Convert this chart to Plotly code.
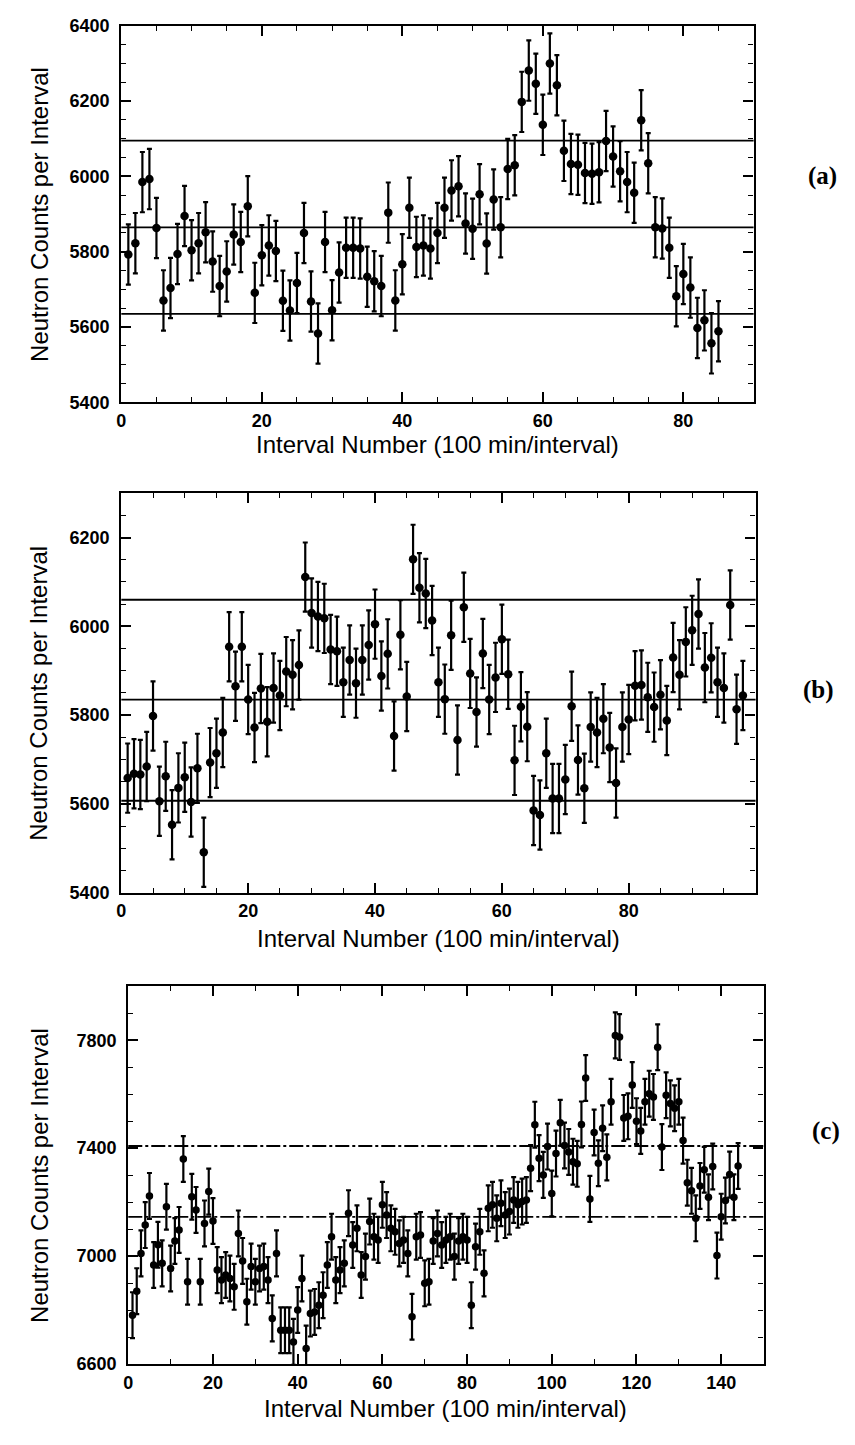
import plotly.graph_objects as go

W, H = 855, 1445

# ---------------- panel (a) ----------------
a_interval = list(range(1, 86))
a_counts = [
    5793, 5823, 5985, 5993, 5863, 5671, 5704, 5794, 5895, 5804,
    5823, 5852, 5774, 5709, 5748, 5846, 5826, 5921, 5691, 5791,
    5817, 5802, 5670, 5644, 5717, 5850, 5668, 5583, 5826, 5645,
    5745, 5811, 5811, 5809, 5734, 5722, 5709, 5904, 5671, 5767,
    5917, 5813, 5817, 5809, 5850, 5917, 5963, 5974, 5875, 5861,
    5953, 5822, 5939, 5865, 6020, 6030, 6198, 6281, 6246, 6137,
    6300, 6242, 6068, 6033, 6031, 6009, 6007, 6011, 6094, 6053,
    6014, 5985, 5957, 6149, 6035, 5865, 5862, 5811, 5682, 5741,
    5705, 5598, 5618, 5557, 5589,
]
a_err = 80
a_levels = [6095, 5865, 5635]

# ---------------- panel (b) ----------------
b_interval = list(range(1, 99))
b_counts = [
    5658, 5668, 5666, 5684, 5798, 5606, 5662, 5553, 5636, 5660,
    5604, 5680, 5491, 5693, 5714, 5761, 5954, 5865, 5954, 5835,
    5772, 5860, 5785, 5861, 5844, 5898, 5891, 5913, 6111, 6030,
    6022, 6018, 5948, 5944, 5874, 5924, 5872, 5924, 5958, 6005,
    5888, 5938, 5753, 5981, 5842, 6151, 6087, 6074, 6013, 5874,
    5836, 5980, 5744, 6043, 5894, 5807, 5939, 5835, 5885, 5971,
    5892, 5698, 5819, 5774, 5585, 5575, 5714, 5612, 5612, 5655,
    5820, 5699, 5635, 5773, 5761, 5792, 5727, 5647, 5773, 5790,
    5866, 5868, 5840, 5818, 5846, 5788, 5930, 5891, 5965, 5991,
    6028, 5907, 5929, 5874, 5861, 6048, 5813, 5844,
]
b_err = 78
b_levels = [6060, 5835, 5607]

# ---------------- panel (c) ----------------
c_interval = list(range(1, 145))
c_counts = [
    6781, 6870, 7010, 7115, 7223, 6967, 7042, 6973, 7183, 6954,
    7056, 7097, 7360, 6905, 7220, 7171, 6905, 7121, 7239, 7130,
    6948, 6911, 6930, 6917, 6886, 7084, 6982, 6831, 6961, 6905,
    6954, 6961, 6911, 6769, 7010, 6725, 6725, 6725, 6682, 6800,
    6917, 6657, 6787, 6793, 6818, 6855, 6967, 7072, 6911, 6948,
    6973, 7159, 7041, 7103, 6930, 6998, 7128, 7072, 7060, 7190,
    7152, 7103, 7090, 7047, 7060, 7010, 6775, 7072, 7078, 6899,
    6905, 7056, 7084, 7041, 7060, 7072, 6998, 7056, 7072, 7060,
    6818, 7035, 7090, 6936, 7177, 7190, 7140, 7196, 7152, 7165,
    7208, 7190, 7202, 7208, 7326, 7487, 7363, 7301, 7406, 7232,
    7380, 7494, 7410, 7386, 7350, 7342, 7488, 7660, 7212, 7458,
    7344, 7474, 7366, 7572, 7818, 7812, 7512, 7518, 7634, 7500,
    7464, 7572, 7602, 7590, 7774, 7404, 7596, 7566, 7548, 7572,
    7428, 7272, 7242, 7140, 7260, 7320, 7218, 7332, 7002, 7146,
    7206, 7302, 7218, 7334,
]
c_err = 85
c_levels = [7408, 7145]

# tick settings per panel
a_xticks = [0, 20, 40, 60, 80]
a_yticks = [5400, 5600, 5800, 6000, 6200, 6400]
b_xticks = [0, 20, 40, 60, 80]
b_yticks = [5400, 5600, 5800, 6000, 6200]
c_xticks = [0, 20, 40, 60, 80, 100, 120, 140]
c_yticks = [6600, 7000, 7400, 7800]

X_TITLE = "Interval Number (100 min/interval)"
Y_TITLE = "Neutron Counts per Interval"


def px_x(p):
    return p / W


def px_y(p):
    return 1 - p / H


panels = [
    dict(x=a_interval, y=a_counts, err=a_err, levels=a_levels,
         xr=[0, 90], yr=[5400, 6400], xt=a_xticks, yt=a_yticks,
         xminor=5, yminor=50, box=(117, 753, 16, 398), label="(a)",
         label_xy=(822, 168), msize=8.5, dash="solid", title_gap=43),
    dict(x=b_interval, y=b_counts, err=b_err, levels=b_levels,
         xr=[0, 100], yr=[5400, 6300], xt=b_xticks, yt=b_yticks,
         xminor=5, yminor=50, box=(117, 755, 490, 895), label="(b)",
         label_xy=(818, 690), msize=8.5, dash="solid", title_gap=47),
    dict(x=c_interval, y=c_counts, err=c_err, levels=c_levels,
         xr=[0, 150], yr=[6600, 8000], xt=c_xticks, yt=c_yticks,
         xminor=10, yminor=100, box=(124, 763, 990, 1373), label="(c)",
         label_xy=(826, 1137), msize=7.5, dash="14px,3px,3px,3px",
         title_gap=45),
]

fig = go.Figure()
annotations = []
shapes = []
tick_font = dict(family="Liberation Sans", size=18, color="black", weight="bold")
title_font = dict(family="Liberation Sans", size=24, color="black")

for k, p in enumerate(panels, start=1):
    xa = "x" if k == 1 else f"x{k}"
    ya = "y" if k == 1 else f"y{k}"
    fig.add_trace(go.Scatter(
        x=p["x"], y=p["y"], mode="markers",
        marker=dict(color="black", size=p["msize"], symbol="circle"),
        error_y=dict(type="constant", value=p["err"], color="black",
                     thickness=2.2, width=2.5),
        xaxis=xa, yaxis=ya, showlegend=False, hoverinfo="x+y",
    ))
    for lv in p["levels"]:
        shapes.append(dict(type="line", xref=f"{xa} domain", yref=ya,
                           x0=0, x1=1, y0=lv, y1=lv,
                           line=dict(color="black", width=1.8, dash=p["dash"])))
    x0, x1, y0, y1 = p["box"]
    axis_common = dict(showline=True, linecolor="black", linewidth=2.2,
                       mirror="ticks", ticks="inside", ticklen=10,
                       tickwidth=1.8, tickcolor="black", showgrid=False,
                       zeroline=False, tickfont=tick_font)
    fig.update_layout(**{
        ("xaxis" if k == 1 else f"xaxis{k}"): dict(
            domain=[px_x(x0), px_x(x1)], range=p["xr"], anchor=ya,
            tickmode="array", tickvals=p["xt"], ticklabelstandoff=1,
            minor=dict(dtick=p["xminor"], ticks="inside", ticklen=5,
                       tickwidth=1.4, tickcolor="black"),
            **axis_common),
        ("yaxis" if k == 1 else f"yaxis{k}"): dict(
            domain=[px_y(y1), px_y(y0)], range=p["yr"], anchor=xa,
            tickmode="array", tickvals=p["yt"], ticklabelstandoff=6,
            minor=dict(dtick=p["yminor"], ticks="inside", ticklen=5,
                       tickwidth=1.4, tickcolor="black"),
            **axis_common),
    })
    # axis titles
    annotations.append(dict(xref="paper", yref="paper",
                            x=px_x((x0 + x1) / 2), y=px_y(y1 + p["title_gap"]),
                            text=X_TITLE, showarrow=False, font=title_font,
                            xanchor="center", yanchor="middle"))
    annotations.append(dict(xref="paper", yref="paper",
                            x=px_x(34), y=px_y((y0 + y1) / 2),
                            text=Y_TITLE, showarrow=False, font=title_font,
                            textangle=-90, xanchor="center", yanchor="middle"))
    lx, ly = p["label_xy"]
    annotations.append(dict(xref="paper", yref="paper", x=px_x(lx), y=px_y(ly),
                            text=p["label"], showarrow=False,
                            font=dict(family="Liberation Serif", size=25,
                                      color="black", weight="bold"),
                            xanchor="center", yanchor="middle"))

fig.update_layout(width=W, height=H, margin=dict(l=0, r=0, t=0, b=0),
                  paper_bgcolor="white", plot_bgcolor="white",
                  annotations=annotations, shapes=shapes)

fig.write_html("out.html")
